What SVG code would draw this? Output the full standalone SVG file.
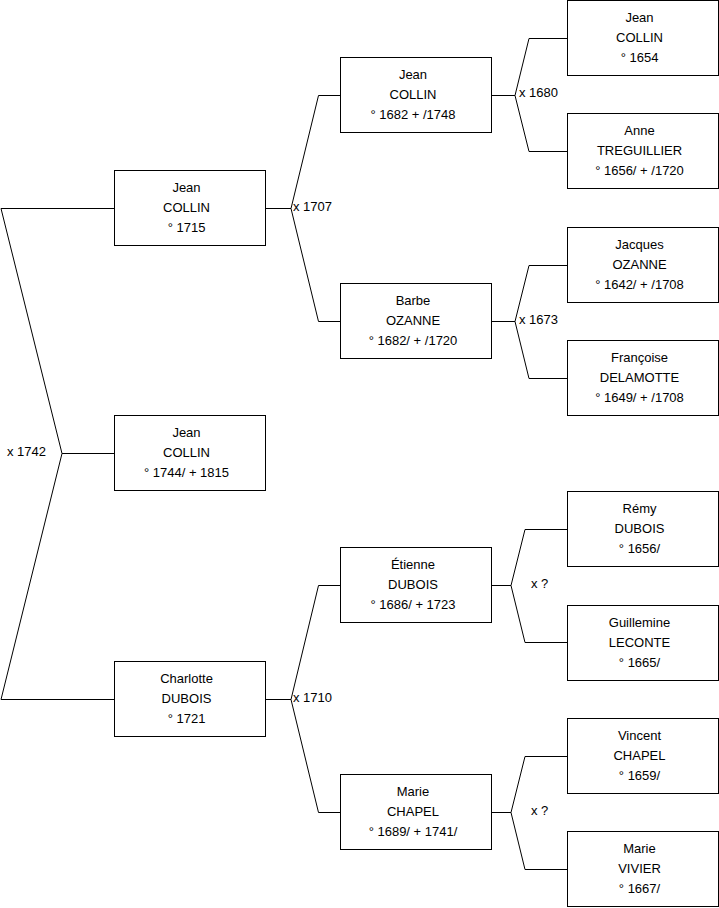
<svg xmlns="http://www.w3.org/2000/svg" width="719" height="908" viewBox="0 0 719 908">
<style>
.b{fill:#fff;stroke:#000;stroke-width:1}
.c{fill:none;stroke:#000;stroke-width:1}
text{font-family:"Liberation Sans",Arial,sans-serif;font-size:13px;fill:#000}
.t{text-anchor:middle}
</style>
<rect width="719" height="908" fill="#fff"/>
<g id="connectors" class="c">
<polyline points="114,208.5 1,208.5 62,453.5 1,699.5 114,699.5"/>
<line x1="62" y1="453.5" x2="114" y2="453.5"/>
<polyline points="341,95.5 318.5,95.5 291,208.5 318.5,321.5 341,321.5"/>
<line x1="265" y1="208.5" x2="291" y2="208.5"/>
<polyline points="341,585.5 318.5,585.5 291,699.5 318.5,812.5 341,812.5"/>
<line x1="265" y1="699.5" x2="291" y2="699.5"/>
<polyline points="567,38.5 529,38.5 515,95.5 529,151.5 567,151.5"/>
<line x1="492" y1="95.5" x2="515" y2="95.5"/>
<polyline points="567,265.5 529,265.5 515,321.5 529,378.5 567,378.5"/>
<line x1="492" y1="321.5" x2="515" y2="321.5"/>
<polyline points="567,529.5 525,529.5 511,585.5 525,642.5 567,642.5"/>
<line x1="492" y1="585.5" x2="511" y2="585.5"/>
<polyline points="567,756.5 525,756.5 511,812.5 525,869.5 567,869.5"/>
<line x1="492" y1="812.5" x2="511" y2="812.5"/>
</g>
<g id="labels">
<text x="7" y="456">x 1742</text>
<text x="293" y="211">x 1707</text>
<text x="293" y="702">x 1710</text>
<text x="519" y="97">x 1680</text>
<text x="519" y="324">x 1673</text>
<text x="531" y="588">x ?</text>
<text x="531" y="815">x ?</text>
</g>
<g id="n1"><rect class="b" x="114.5" y="170.5" width="151" height="75"/><text class="t" x="186.5" y="191.5">Jean</text><text class="t" x="186.5" y="211.5">COLLIN</text><text class="t" x="186.5" y="231.5">° 1715</text></g>
<g id="n2"><rect class="b" x="114.5" y="415.5" width="151" height="75"/><text class="t" x="186.5" y="436.5">Jean</text><text class="t" x="186.5" y="456.5">COLLIN</text><text class="t" x="186.5" y="476.5">° 1744/ + 1815</text></g>
<g id="n3"><rect class="b" x="114.5" y="661.5" width="151" height="75"/><text class="t" x="186.5" y="682.5">Charlotte</text><text class="t" x="186.5" y="702.5">DUBOIS</text><text class="t" x="186.5" y="722.5">° 1721</text></g>
<g id="n4"><rect class="b" x="340.5" y="57.5" width="151" height="75"/><text class="t" x="413" y="78.5">Jean</text><text class="t" x="413" y="98.5">COLLIN</text><text class="t" x="413" y="118.5">° 1682 + /1748</text></g>
<g id="n5"><rect class="b" x="340.5" y="283.5" width="151" height="75"/><text class="t" x="413" y="304.5">Barbe</text><text class="t" x="413" y="324.5">OZANNE</text><text class="t" x="413" y="344.5">° 1682/ + /1720</text></g>
<g id="n6"><rect class="b" x="340.5" y="547.5" width="151" height="75"/><text class="t" x="413" y="568.5">Étienne</text><text class="t" x="413" y="588.5">DUBOIS</text><text class="t" x="413" y="608.5">° 1686/ + 1723</text></g>
<g id="n7"><rect class="b" x="340.5" y="774.5" width="151" height="75"/><text class="t" x="413" y="795.5">Marie</text><text class="t" x="413" y="815.5">CHAPEL</text><text class="t" x="413" y="835.5">° 1689/ + 1741/</text></g>
<g id="n8"><rect class="b" x="567.5" y="0.5" width="151" height="75"/><text class="t" x="639.5" y="21.5">Jean</text><text class="t" x="639.5" y="41.5">COLLIN</text><text class="t" x="639.5" y="61.5">° 1654</text></g>
<g id="n9"><rect class="b" x="567.5" y="113.5" width="151" height="75"/><text class="t" x="639.5" y="134.5">Anne</text><text class="t" x="639.5" y="154.5">TREGUILLIER</text><text class="t" x="639.5" y="174.5">° 1656/ + /1720</text></g>
<g id="n10"><rect class="b" x="567.5" y="227.5" width="151" height="75"/><text class="t" x="639.5" y="248.5">Jacques</text><text class="t" x="639.5" y="268.5">OZANNE</text><text class="t" x="639.5" y="288.5">° 1642/ + /1708</text></g>
<g id="n11"><rect class="b" x="567.5" y="340.5" width="151" height="75"/><text class="t" x="639.5" y="361.5">Françoise</text><text class="t" x="639.5" y="381.5">DELAMOTTE</text><text class="t" x="639.5" y="401.5">° 1649/ + /1708</text></g>
<g id="n12"><rect class="b" x="567.5" y="491.5" width="151" height="75"/><text class="t" x="639.5" y="512.5">Rémy</text><text class="t" x="639.5" y="532.5">DUBOIS</text><text class="t" x="639.5" y="552.5">° 1656/</text></g>
<g id="n13"><rect class="b" x="567.5" y="605.5" width="151" height="75"/><text class="t" x="639.5" y="626.5">Guillemine</text><text class="t" x="639.5" y="646.5">LECONTE</text><text class="t" x="639.5" y="666.5">° 1665/</text></g>
<g id="n14"><rect class="b" x="567.5" y="718.5" width="151" height="75"/><text class="t" x="639.5" y="739.5">Vincent</text><text class="t" x="639.5" y="759.5">CHAPEL</text><text class="t" x="639.5" y="779.5">° 1659/</text></g>
<g id="n15"><rect class="b" x="567.5" y="831.5" width="151" height="75"/><text class="t" x="639.5" y="852.5">Marie</text><text class="t" x="639.5" y="872.5">VIVIER</text><text class="t" x="639.5" y="892.5">° 1667/</text></g>
</svg>
